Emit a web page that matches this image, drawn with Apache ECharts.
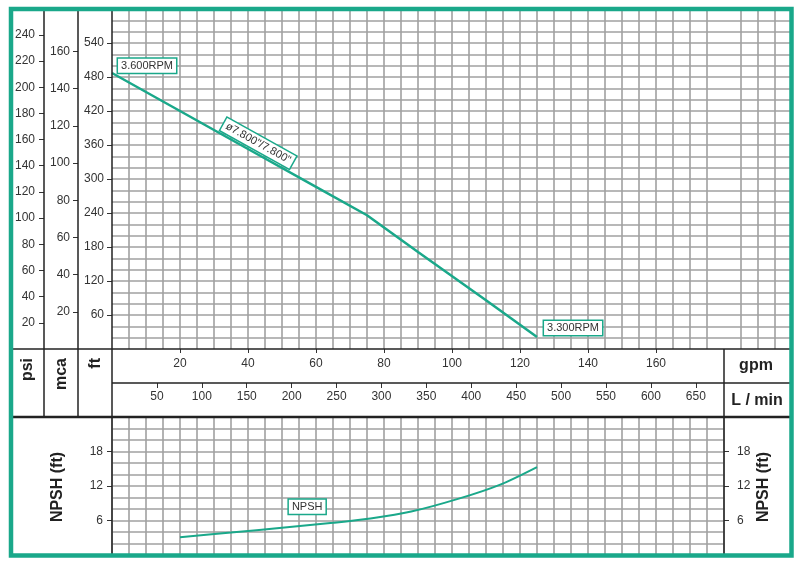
<!DOCTYPE html>
<html>
<head>
<meta charset="utf-8">
<script src="https://cdn.jsdelivr.net/npm/echarts@6/dist/echarts.min.js"></script>
<style>html,body{margin:0;padding:0;background:#fff}#c{width:808px;height:567px}</style>
</head>
<body>
<div id="c"></div>
<script>
// ---- data ----
const headGpm = [0, 20, 40, 60, 75, 90, 110, 125];
const headFt  = [487, 420, 353, 286, 236, 171, 86, 21];
const npshGpm = [20, 35, 50, 65, 76, 88, 102, 114, 125];
const npshFt  = [3.1, 3.9, 4.75, 5.6, 6.35, 7.55, 9.8, 12.2, 15.3];
// tick labels
const gpmTicks  = [20, 40, 60, 80, 100, 120, 140, 160];
const lpmTicks  = [50, 100, 150, 200, 250, 300, 350, 400, 450, 500, 550, 600, 650];
const ftTicks   = [60, 120, 180, 240, 300, 360, 420, 480, 540];
const mcaTicks  = [20, 40, 60, 80, 100, 120, 140, 160];
const psiTicks  = [20, 40, 60, 80, 100, 120, 140, 160, 180, 200, 220, 240];
const npshTicks = [6, 12, 18];
// annotations
const curveLabels = [
  {name: '3.600RPM', coord: [10.3, 500], rotate: 0},
  {name: 'ø7.800"/7.800"', coord: [43, 363], rotate: -29},
  {name: '3.300RPM', coord: [135.6, 37], rotate: 0}
];
const npshLabel = {name: 'NPSH', coord: [57.4, 8.4]};

const FT_MAX = 600, GPM_TOP_MAX = 200, GPM_MAX = 180, NPSH_MAX = 24;
const M_PER_FT = 0.3048, FT_PER_PSI = 2.31, LPM_PER_GPM = 3.7854;

const TEAL = '#1aa88a';
const FONT = '"Liberation Sans", Arial, sans-serif';
const gridLine = {color: '#a0a0a0', width: 1.6};
const tickStyle = {color: '#333', width: 1};
const lblStyle = {color: '#333', fontSize: 12, fontFamily: FONT};
const noLine = {show: false, onZero: false};
const boxLabel = {
  show: true, position: 'inside', formatter: '{b}', color: '#333', fontSize: 11, fontFamily: FONT,
  backgroundColor: '#fff', borderColor: TEAL, borderWidth: 1.5, padding: [2, 3, 1, 3]
};

function yAx(extra) {
  return Object.assign({
    type: 'value', min: 0, axisLine: noLine, splitLine: {show: false},
    axisTick: {show: true, length: 5, inside: false, lineStyle: tickStyle},
    axisLabel: Object.assign({margin: 8}, lblStyle)
  }, extra);
}

const chart = echarts.init(document.getElementById('c'), null, {renderer: 'canvas'});
const option = {
  animation: false,
  backgroundColor: '#fff',
  textStyle: {fontFamily: FONT},
  grid: [
    {left: 112, top: 9, width: 680, height: 340, outerBoundsMode: 'none', containLabel: false},
    {left: 112, top: 417, width: 612, height: 138, outerBoundsMode: 'none', containLabel: false}
  ],
  xAxis: [
    {gridIndex: 0, type: 'value', min: 0, max: GPM_TOP_MAX, interval: 20, position: 'bottom',
     axisLine: noLine,
     axisTick: {show: true, length: 4, customValues: gpmTicks, lineStyle: tickStyle},
     axisLabel: Object.assign({margin: 9, customValues: gpmTicks}, lblStyle),
     splitLine: {show: true, lineStyle: gridLine},
     minorTick: {show: false, splitNumber: 4},
     minorSplitLine: {show: true, lineStyle: gridLine}},
    {gridIndex: 1, type: 'value', min: 0, max: GPM_MAX, interval: 20, position: 'bottom',
     axisLine: noLine, axisTick: {show: false}, axisLabel: {show: false},
     splitLine: {show: true, lineStyle: gridLine},
     minorTick: {show: false, splitNumber: 4},
     minorSplitLine: {show: true, lineStyle: gridLine}},
    {gridIndex: 1, type: 'value', min: 0, max: GPM_MAX * LPM_PER_GPM, interval: 50, position: 'top', offset: 34,
     axisLine: noLine,
     axisTick: {show: true, inside: true, length: 5, customValues: lpmTicks, lineStyle: tickStyle},
     axisLabel: Object.assign({inside: true, margin: 8, customValues: lpmTicks}, lblStyle),
     splitLine: {show: false}, minorSplitLine: {show: false}}
  ],
  yAxis: [
    yAx({gridIndex: 0, max: FT_MAX, interval: 60, position: 'left', offset: 0,
         axisTick: {show: true, length: 5, customValues: ftTicks, lineStyle: tickStyle},
         axisLabel: Object.assign({margin: 8, customValues: ftTicks}, lblStyle),
         splitLine: {show: true, lineStyle: gridLine},
         minorTick: {show: false, splitNumber: 3},
         minorSplitLine: {show: true, lineStyle: gridLine}}),
    yAx({gridIndex: 0, max: FT_MAX * M_PER_FT, interval: 20, position: 'left', offset: 34,
         axisTick: {show: true, length: 5, customValues: mcaTicks, lineStyle: tickStyle},
         axisLabel: Object.assign({margin: 8, customValues: mcaTicks}, lblStyle)}),
    yAx({gridIndex: 0, max: FT_MAX / FT_PER_PSI, interval: 20, position: 'left', offset: 68,
         axisTick: {show: true, length: 5, customValues: psiTicks, lineStyle: tickStyle},
         axisLabel: Object.assign({margin: 9, customValues: psiTicks}, lblStyle)}),
    yAx({gridIndex: 1, max: NPSH_MAX, interval: 6, position: 'left',
         axisTick: {show: true, length: 5, customValues: npshTicks, lineStyle: tickStyle},
         axisLabel: Object.assign({margin: 9, customValues: npshTicks}, lblStyle),
         splitLine: {show: true, lineStyle: gridLine},
         minorTick: {show: false, splitNumber: 3},
         minorSplitLine: {show: true, lineStyle: gridLine}}),
    yAx({gridIndex: 1, max: NPSH_MAX, interval: 6, position: 'right',
         axisTick: {show: true, length: 5, customValues: npshTicks, lineStyle: tickStyle},
         axisLabel: Object.assign({margin: 13, customValues: npshTicks}, lblStyle)})
  ],
  series: [
    {type: 'line', xAxisIndex: 0, yAxisIndex: 0, symbol: 'none', z: 5,
     data: headGpm.map((g, i) => [g, headFt[i]]),
     lineStyle: {color: TEAL, width: 2.5}, itemStyle: {color: TEAL},
     markPoint: {symbol: 'rect', symbolSize: 0, silent: true, label: boxLabel,
       data: curveLabels.map(l => ({name: l.name, coord: l.coord, label: {rotate: l.rotate}}))}},
    {type: 'line', xAxisIndex: 1, yAxisIndex: 3, symbol: 'none', smooth: 0.3, z: 5,
     data: npshGpm.map((g, i) => [g, npshFt[i]]),
     lineStyle: {color: TEAL, width: 2}, itemStyle: {color: TEAL},
     markPoint: {symbol: 'rect', symbolSize: 0, silent: true, label: boxLabel,
       data: [{name: npshLabel.name, coord: npshLabel.coord}]}}
  ],
  graphic: {elements: [
    // structural frame lines
    {type: 'line', z: 50, shape: {x1: 44, y1: 9, x2: 44, y2: 417}, style: {stroke: '#222', lineWidth: 1.5}},
    {type: 'line', z: 50, shape: {x1: 78, y1: 9, x2: 78, y2: 417}, style: {stroke: '#222', lineWidth: 1.5}},
    {type: 'line', z: 50, shape: {x1: 112, y1: 9, x2: 112, y2: 556}, style: {stroke: '#222', lineWidth: 1.5}},
    {type: 'line', z: 50, shape: {x1: 11, y1: 349, x2: 791, y2: 349}, style: {stroke: '#222', lineWidth: 1.5}},
    {type: 'line', z: 50, shape: {x1: 112, y1: 383, x2: 791, y2: 383}, style: {stroke: '#222', lineWidth: 1.5}},
    {type: 'line', z: 50, shape: {x1: 11, y1: 417, x2: 791, y2: 417}, style: {stroke: '#222', lineWidth: 2.5}},
    {type: 'line', z: 50, shape: {x1: 724, y1: 349, x2: 724, y2: 556}, style: {stroke: '#222', lineWidth: 1.5}},
    // unit titles
    {type: 'text', z: 60, x: 28, y: 358, rotation: Math.PI / 2,
     style: {text: 'psi', font: 'bold 16px ' + FONT, fill: '#222', align: 'right', verticalAlign: 'middle'}},
    {type: 'text', z: 60, x: 62, y: 358, rotation: Math.PI / 2,
     style: {text: 'mca', font: 'bold 16px ' + FONT, fill: '#222', align: 'right', verticalAlign: 'middle'}},
    {type: 'text', z: 60, x: 96, y: 358, rotation: Math.PI / 2,
     style: {text: 'ft', font: 'bold 16px ' + FONT, fill: '#222', align: 'right', verticalAlign: 'middle'}},
    {type: 'text', z: 60, x: 756, y: 366,
     style: {text: 'gpm', font: 'bold 16px ' + FONT, fill: '#222', align: 'center', verticalAlign: 'middle'}},
    {type: 'text', z: 60, x: 757, y: 401,
     style: {text: 'L / min', font: 'bold 16px ' + FONT, fill: '#222', align: 'center', verticalAlign: 'middle'}},
    {type: 'text', z: 60, x: 58, y: 487, rotation: Math.PI / 2,
     style: {text: 'NPSH (ft)', font: 'bold 16px ' + FONT, fill: '#222', align: 'center', verticalAlign: 'middle'}},
    {type: 'text', z: 60, x: 764, y: 487, rotation: Math.PI / 2,
     style: {text: 'NPSH (ft)', font: 'bold 16px ' + FONT, fill: '#222', align: 'center', verticalAlign: 'middle'}},
    // outer teal border
    {type: 'rect', z: 100, shape: {x: 11, y: 9, width: 780.5, height: 546.5},
     style: {fill: 'none', stroke: TEAL, lineWidth: 4.5}}
  ]}
};
chart.setOption(option);
</script>
</body>
</html>
